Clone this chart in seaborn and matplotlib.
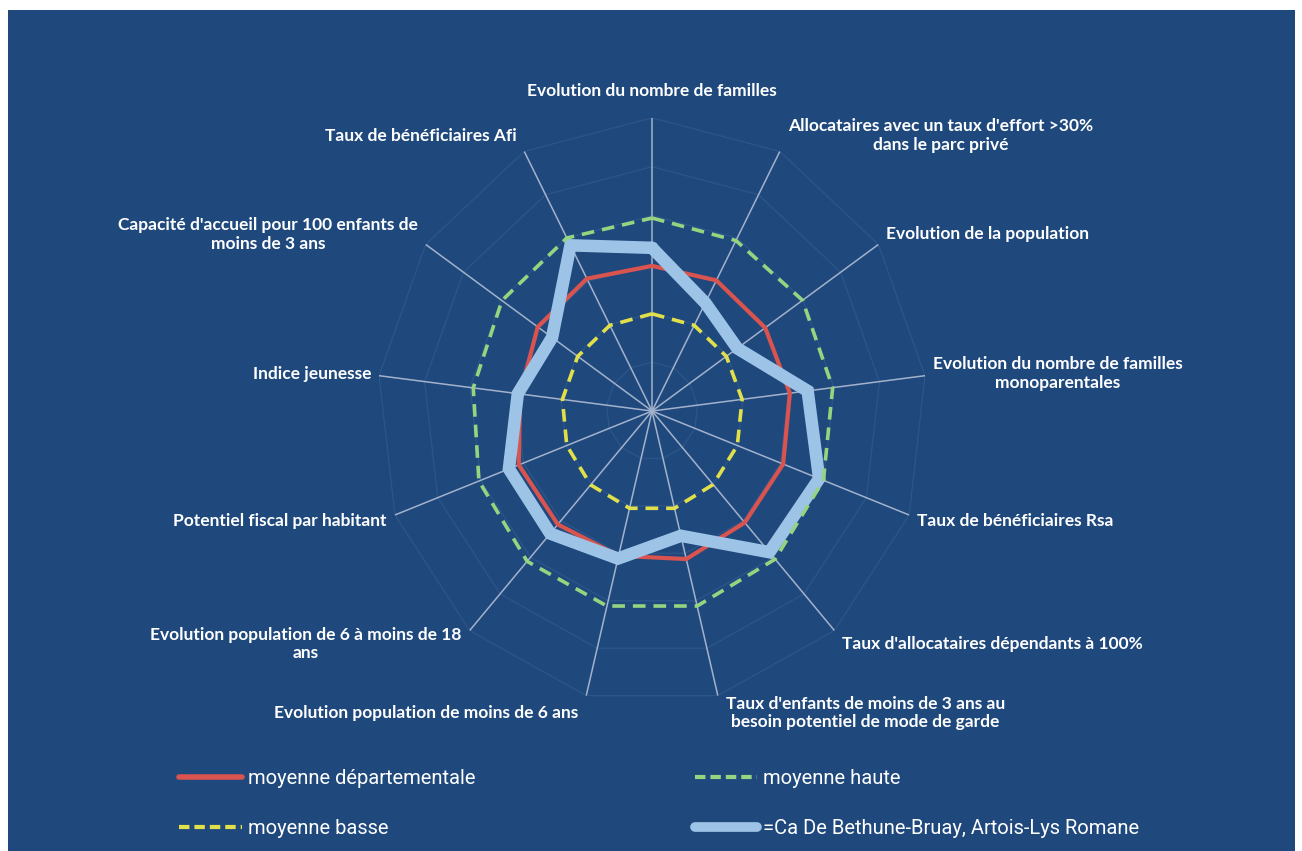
"""Radar : indicateurs CAF, Ca De Bethune-Bruay vs moyennes départementales."""

import matplotlib

matplotlib.use("Agg")
import matplotlib.pyplot as plt
import numpy as np
import pandas as pd
import seaborn as sns
from matplotlib.lines import Line2D
from matplotlib.patches import Rectangle

# Axes du radar (sens horaire depuis le haut)
CATEGORIES = [
    "Evolution du nombre de familles",
    "Allocataires avec un taux d'effort >30%\ndans le parc privé",
    "Evolution de la population",
    "Evolution du nombre de familles\nmonoparentales",
    "Taux de bénéficiaires Rsa",
    "Taux d'allocataires dépendants à 100%",
    "Taux d'enfants de moins de 3 ans au\nbesoin potentiel de mode de garde",
    "Evolution population de moins de 6 ans",
    "Evolution population de 6 à moins de 18\nans",
    "Potentiel fiscal par habitant",
    "Indice jeunesse",
    "Capacité d'accueil pour 100 enfants de\nmoins de 3 ans",
    "Taux de bénéficiaires Afi",
]

# Valeurs (échelle 0–6)
MOY_DEPARTEMENTALE = [2.97, 3.02, 3.00, 3.03, 3.06, 3.05, 3.12, 3.05, 3.10, 3.11, 2.90, 3.03, 3.06]
MOY_HAUTE = [3.95, 3.94, 3.99, 3.97, 4.00, 4.05, 4.11, 4.11, 4.11, 4.04, 3.93, 3.98, 4.00]
MOY_BASSE = [1.99, 1.98, 1.97, 1.98, 1.99, 2.01, 2.05, 2.05, 2.02, 1.99, 1.97, 1.97, 1.98]
CA_BETHUNE = [3.34, 2.50, 2.26, 3.42, 3.90, 3.86, 2.63, 3.11, 3.35, 3.34, 2.95, 2.65, 3.83]

LABELS = [
    "moyenne départementale",
    "moyenne haute",
    "moyenne basse",
    "=Ca De Bethune-Bruay, Artois-Lys Romane",
]
RINGS = [1, 2, 3, 4, 5, 6]

BG = "#1F497D"

sns.set_theme(style="dark")
plt.rcParams["font.family"] = ["Lato", "DejaVu Sans"]

n = len(CATEGORIES)
theta = np.linspace(0, 2 * np.pi, n, endpoint=False)
theta_closed = np.append(theta, 2 * np.pi)


def _closed(vals):
    return pd.DataFrame({"theta": theta_closed, "r": list(vals) + [vals[0]]})


fig = plt.figure(figsize=(13.02, 8.51), dpi=100, facecolor="white")
fig.patches.append(
    Rectangle((0.006, 0.0), 0.989, 0.988, transform=fig.transFigure,
              facecolor=BG, edgecolor="none", zorder=-10)
)

ax = fig.add_axes([0.2896, 0.1725, 0.4224, 0.689], projection="polar")
ax.set_aspect("auto")
ax.set_facecolor("none")
ax.set_theta_zero_location("N")
ax.set_theta_direction(-1)
ax.set_ylim(0, 6)
ax.grid(False)
ax.spines["polar"].set_visible(False)
ax.set_xticks([])
ax.set_yticks([])

# grille polygonale + rayons
for lvl in RINGS:
    ax.plot(theta_closed, [lvl] * (n + 1), color="#3A6298", lw=1.0, alpha=0.45, zorder=1)
for t in theta:
    ax.plot([t, t], [0, 6], color="#A3B2CC", lw=1.1, zorder=1)

styles = [
    (MOY_DEPARTEMENTALE, dict(color="#D9534F", linewidth=3.0, zorder=3)),
    (CA_BETHUNE, dict(color="#9DC3E6", linewidth=9.0, zorder=4, solid_joinstyle="miter")),
    (MOY_HAUTE, dict(color="#95D580", linewidth=2.6, linestyle=(0, (3.5, 2.2)), zorder=5)),
    (MOY_BASSE, dict(color="#E2E04A", linewidth=2.6, linestyle=(0, (3.5, 2.2)), zorder=5)),
]
for vals, kw in styles:
    sns.lineplot(data=_closed(vals), x="theta", y="r", sort=False, ax=ax,
                 estimator=None, legend=False, **kw)
ax.set_xlabel("")
ax.set_ylabel("")

for t, lab in zip(theta, CATEGORIES):
    s, c = np.sin(t), np.cos(t)
    if abs(s) < 0.1:
        ha, dx, dy = "center", 0, 27
    else:
        ha = "left" if s > 0 else "right"
        dx, dy = 8 * np.sign(s), 18 * c
    ax.annotate(lab, xy=(t, 6), xytext=(dx, dy), textcoords="offset pixels",
                ha=ha, va="center", ma="center", color="white",
                fontsize=12.5, fontweight="bold")

handles = [
    Line2D([], [], color="#D9534F", lw=4),
    Line2D([], [], color="#E2E04A", lw=3, linestyle=(0, (2.5, 1.2))),
    Line2D([], [], color="#95D580", lw=3, linestyle=(0, (2.5, 1.2))),
    Line2D([], [], color="#9DC3E6", lw=7, solid_capstyle="round"),
]
labels = [LABELS[0], LABELS[2], LABELS[1], LABELS[3]]
leg = fig.legend(handles, labels, ncol=2, loc="lower left",
                 bbox_to_anchor=(0.1275, 0.0), frameon=False, borderpad=0.15,
                 handlelength=3.1, handletextpad=0.3, columnspacing=10.9,
                 labelspacing=1.55, prop={"family": "Roboto", "size": 14.5})
for txt in leg.get_texts():
    txt.set_color("white")

fig.savefig("out.png", dpi=100, facecolor=fig.get_facecolor())
